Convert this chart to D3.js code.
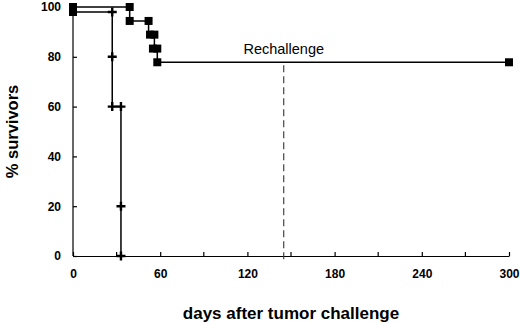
<!DOCTYPE html>
<html><head><meta charset="utf-8">
<script src="https://cdn.jsdelivr.net/npm/d3@7"></script>
<style>body{margin:0;background:#fff}svg{display:block}</style>
</head><body>
<svg id="c" width="520" height="324"></svg>
<script>
// Data
const xTicks = [0, 60, 120, 180, 240, 300];
const xMinorTicks = [30, 90, 150, 210, 270];
const yTicks = [0, 20, 40, 60, 80, 100];
// Treated group (squares): step survival curve
const treatedDays   = [0, 39, 39, 52, 52, 56, 56, 58, 58, 300];
const treatedSurv   = [100, 100, 94.4, 94.4, 88.9, 88.9, 83.3, 83.3, 77.8, 77.8];
const treatedMarkDays = [0, 39, 39, 52, 53, 56, 55, 58, 58, 300];
const treatedMarkSurv = [100, 100, 94.4, 94.4, 88.9, 88.9, 83.3, 83.3, 77.8, 77.8];
// Control group (crosses)
const controlDays = [0, 27, 27, 27, 33, 33, 33];
const controlSurv = [98, 98, 80, 60, 60, 20, 0];
const controlMarkDays = [27, 27, 27, 33, 33, 33];
const controlMarkSurv = [98, 80, 60, 60, 20, 0];
const rechallengeDay = 145;
const rechallengeLabel = "Rechallenge";
const xTitle = "days after tumor challenge";
const yTitle = "% survivors";

const svg = d3.select("#c");
const x = d3.scaleLinear().domain([0, 300]).range([73, 509]);
const y = d3.scaleLinear().domain([0, 100]).range([256, 7]);

// axes
const xAxis = svg.append("g").attr("transform", `translate(0,${y(0)})`)
  .call(d3.axisBottom(x).tickValues(xTicks).tickSizeInner(-4).tickSizeOuter(0).tickPadding(13));
xAxis.append("g").selectAll("line").data(xMinorTicks).join("line")
  .attr("x1", d => x(d)).attr("x2", d => x(d)).attr("y1", 0).attr("y2", -4).attr("stroke", "#000");
const yAxis = svg.append("g").attr("transform", `translate(${x(0)},0)`)
  .call(d3.axisLeft(y).tickValues(yTicks).tickSizeInner(-4).tickSizeOuter(0).tickPadding(12));
[xAxis, yAxis].forEach(g => {
  g.selectAll("text").attr("font-family", "Liberation Sans, Arial, sans-serif")
    .attr("font-weight", "bold").attr("font-size", 12).attr("fill", "#000");
  g.selectAll("line,path").attr("stroke", "#000").attr("stroke-width", 1.2);
});
yAxis.select(".domain").attr("d", `M0,${y(0)}V${y(100)}`);

// rechallenge line
svg.append("line").attr("x1", x(rechallengeDay)).attr("x2", x(rechallengeDay))
  .attr("y1", y(77.8) + 3).attr("y2", y(0) + 7)
  .attr("stroke", "#333").attr("stroke-width", 1.1).attr("stroke-dasharray", "7,4");
svg.append("text").attr("x", x(rechallengeDay)).attr("y", 54).attr("text-anchor", "middle")
  .attr("font-family", "Liberation Sans, Arial, sans-serif").attr("font-size", 14.5).text(rechallengeLabel);

// lines
const line = d3.line().x(d => x(d[0])).y(d => y(d[1]));
svg.append("path").attr("d", line(d3.zip(treatedDays, treatedSurv)))
  .attr("fill", "none").attr("stroke", "#000").attr("stroke-width", 1.5);
svg.append("path").attr("d", line(d3.zip(controlDays, controlSurv)))
  .attr("fill", "none").attr("stroke", "#000").attr("stroke-width", 1.5);

// square markers
svg.append("g").selectAll("rect").data(d3.zip(treatedMarkDays, treatedMarkSurv)).join("rect")
  .attr("x", d => x(d[0]) - 4).attr("y", d => y(d[1]) - 4).attr("width", 8).attr("height", 8).attr("fill", "#000");
svg.append("rect").attr("x", x(0) - 4).attr("y", y(98) - 4).attr("width", 8).attr("height", 8).attr("fill", "#000");
// cross markers
svg.append("g").selectAll("path").data(d3.zip(controlMarkDays, controlMarkSurv)).join("path")
  .attr("d", d => `M${x(d[0]) - 4.5},${y(d[1])}H${x(d[0]) + 4.5}M${x(d[0])},${y(d[1]) - 4.5}V${y(d[1]) + 4.5}`)
  .attr("stroke", "#000").attr("stroke-width", 2.4).attr("fill", "none");

// titles
svg.append("text").attr("x", (x(0) + x(300)) / 2).attr("y", 319).attr("text-anchor", "middle")
  .attr("font-family", "Liberation Sans, Arial, sans-serif").attr("font-weight", "bold").attr("font-size", 17).text(xTitle);
svg.append("text").attr("transform", `translate(18,${(y(0) + y(100)) / 2}) rotate(-90)`).attr("text-anchor", "middle")
  .attr("font-family", "Liberation Sans, Arial, sans-serif").attr("font-weight", "bold").attr("font-size", 16.5).text(yTitle);
</script>
</body></html>
